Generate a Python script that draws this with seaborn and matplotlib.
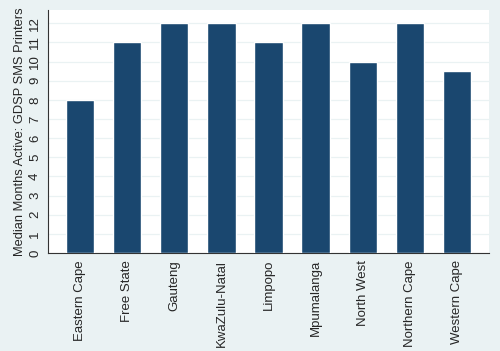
import matplotlib
matplotlib.use("Agg")
import matplotlib.pyplot as plt
import seaborn as sns
import pandas as pd

provinces = ["Eastern Cape", "Free State", "Gauteng", "KwaZulu-Natal", "Limpopo",
             "Mpumalanga", "North West", "Northern Cape", "Western Cape"]
median_months = [8, 11, 12, 12, 11, 12, 10, 12, 9.5]
y_ticks = list(range(0, 13))

BG = "#EAF2F3"
NAVY = "#1A476F"

sns.set_theme(style="white")
plt.rcParams["font.family"] = ["Liberation Sans", "DejaVu Sans"]

df = pd.DataFrame({"province": provinces, "months": median_months})

fig = plt.figure(figsize=(5.0, 3.51), dpi=100, facecolor=BG)
ax = fig.add_axes([0.096, 0.279, 0.882, 0.693])
ax.set_facecolor("white")

sns.barplot(data=df, x="province", y="months", color=NAVY, saturation=1,
            width=0.6, ax=ax, zorder=3)

ax.set_xlim(-0.68, 8.68)
ax.set_ylim(0, 12.7)
ax.set_yticks(y_ticks)
ax.set_yticklabels([str(t) for t in y_ticks], rotation=90, va="center", fontsize=9.5)
ax.set_xticks(range(len(provinces)))
ax.set_xticklabels(provinces, rotation=90, fontsize=9.5)
ax.tick_params(axis="y", length=3, width=0.7, color="#333333", pad=2)
ax.tick_params(axis="x", length=0, pad=5)
ax.grid(axis="y", color=BG, linewidth=0.9, zorder=0)
ax.set_axisbelow(True)

ax.set_xlabel("")
ax.set_ylabel("Median Months Active: GDSP SMS Printers", fontsize=9.3, labelpad=2)

for side in ["top", "right"]:
    ax.spines[side].set_visible(False)
for side in ["left", "bottom"]:
    ax.spines[side].set_color("#333333")
    ax.spines[side].set_linewidth(0.8)

fig.savefig("out.png", dpi=100, facecolor=BG)
plt.close(fig)
